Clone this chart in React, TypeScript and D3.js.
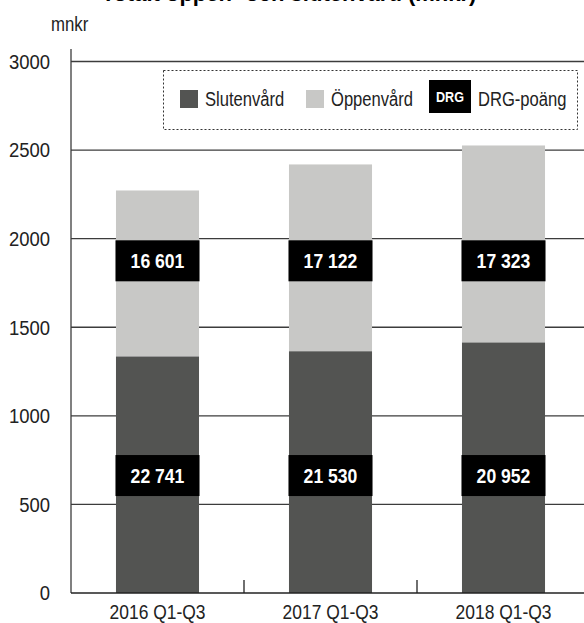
import React from 'react';
import * as d3 from 'd3';

// Period labels on the x axis
const periods = ['2016 Q1-Q3', '2017 Q1-Q3', '2018 Q1-Q3'];
// mnkr per segment
const slutenvard = [1336, 1365, 1415];
const oppenvard = [936, 1054, 1111];
// DRG points shown in the black boxes
const drgSluten = [22741, 21530, 20952];
const drgOppen = [16601, 17122, 17323];
const yTicks = [0, 500, 1000, 1500, 2000, 2500, 3000];
// fixed value levels where the DRG boxes are centred
const drgLevelSluten = 663;
const drgLevelOppen = 1875;

const W = 584;
const H = 623;
const FONT = '"Liberation Sans", Arial, sans-serif';
const DARK = '#535452';
const LIGHT = '#c8c8c6';
const GRID = '#3c3c3c';

const fmt = (n: number) => d3.format(',')(n).replace(/,/g, ' ');

// no narrow font installed, so squeeze a regular one horizontally
interface NTextProps {
  x: number;
  y: number;
  size: number;
  sx: number;
  anchor?: string;
  bold?: boolean;
  fill?: string;
  dy?: string;
  children: React.ReactNode;
}

const NText = ({ x, y, size, sx, anchor = 'start', bold = false, fill = '#222', dy, children }: NTextProps) => (
  <text
    transform={`translate(${x},${y}) scale(${sx},1)`}
    fontSize={size}
    fontWeight={bold ? 'bold' : 'normal'}
    textAnchor={anchor}
    fill={fill}
    dy={dy}
  >
    {children}
  </text>
);

const App = () => {
  const axisX = 71;
  const x = d3.scaleBand<string>()
    .domain(periods)
    .range([axisX, 590])
    .paddingInner(0.52)
    .paddingOuter(0.26);
  const y = d3.scaleLinear().domain([0, 3000]).range([593, 61.5]);

  const stacked = d3.stack<number>()
    .keys(['sluten', 'oppen'])
    .value((i, key) => (key === 'sluten' ? slutenvard[i] : oppenvard[i]))(d3.range(periods.length));

  const bw = x.bandwidth();
  const boxH = 41;
  const dividers = periods.slice(1).map(p => (x(p) as number) - (x.step() * x.paddingInner()) / 2);

  return (
    <svg width={W} height={H} style={{ position: 'absolute', left: 0, top: 0, fontFamily: FONT }}>
      <rect width={W} height={H} fill="#fff" />
      {/* title, mostly cut off at the top edge */}
      <NText x={289} y={1} size={22} sx={1} anchor="middle" bold fill="#000">
        Totalt öppen- och slutenvård (mnkr)
      </NText>
      <NText x={51} y={31} size={21} sx={0.8}>mnkr</NText>

      {/* gridlines */}
      {yTicks.filter(t => t > 0).map(t => (
        <line key={t} x1={axisX} x2={W} y1={y(t)} y2={y(t)} stroke={GRID} strokeWidth={1.3} />
      ))}
      {yTicks.map(t => (
        <NText key={'l' + t} x={50} y={y(t)} dy="0.35em" size={21} sx={0.88} anchor="end">{t}</NText>
      ))}

      {/* bars */}
      {stacked.map((s, si) => (
        <g key={s.key} fill={si === 0 ? DARK : LIGHT}>
          {s.map((d, i) => (
            <rect key={i} x={x(periods[i])} width={bw} y={y(d[1])} height={y(d[0]) - y(d[1])} />
          ))}
        </g>
      ))}

      {/* DRG boxes */}
      {periods.map((p, i) => (
        <g key={'drg' + p}>
          {[
            { v: drgOppen[i], lvl: drgLevelOppen },
            { v: drgSluten[i], lvl: drgLevelSluten },
          ].map(b => (
            <g key={b.lvl}>
              <rect x={(x(p) as number) - 0.5} width={bw + 1} y={y(b.lvl) - boxH / 2} height={boxH} fill="#000" />
              <NText x={(x(p) as number) + bw / 2} y={y(b.lvl)} dy="0.36em" size={20} sx={0.88} anchor="middle" bold fill="#fff">
                {fmt(b.v)}
              </NText>
            </g>
          ))}
        </g>
      ))}

      {/* axes */}
      <line x1={axisX} x2={axisX} y1={49} y2={y(0)} stroke={GRID} strokeWidth={1.3} />
      <line x1={axisX} x2={W} y1={y(0)} y2={y(0)} stroke="#222" strokeWidth={1.6} />
      {dividers.map(dx => (
        <line key={dx} x1={dx} x2={dx} y1={y(0)} y2={y(0) - 13} stroke="#222" strokeWidth={1.3} />
      ))}
      {periods.map(p => (
        <NText key={'x' + p} x={(x(p) as number) + bw / 2} y={619} size={21} sx={0.83} anchor="middle">{p}</NText>
      ))}

      {/* legend */}
      <rect x={163.5} y={70.5} width={414} height={59} fill="#fff" stroke="#333" strokeWidth={1} strokeDasharray="2,2" />
      <rect x={180} y={90} width={18} height={18} fill={DARK} />
      <NText x={205} y={99} dy="0.35em" size={21} sx={0.79}>Slutenvård</NText>
      <rect x={306} y={90} width={18} height={18} fill={LIGHT} />
      <NText x={331} y={99} dy="0.35em" size={21} sx={0.79}>Öppenvård</NText>
      <rect x={429} y={80} width={42} height={33} fill="#000" />
      <NText x={450} y={97} dy="0.36em" size={14} sx={0.9} anchor="middle" bold fill="#fff">DRG</NText>
      <NText x={478} y={99} dy="0.35em" size={21} sx={0.79}>DRG-poäng</NText>
    </svg>
  );
};

export default App;
